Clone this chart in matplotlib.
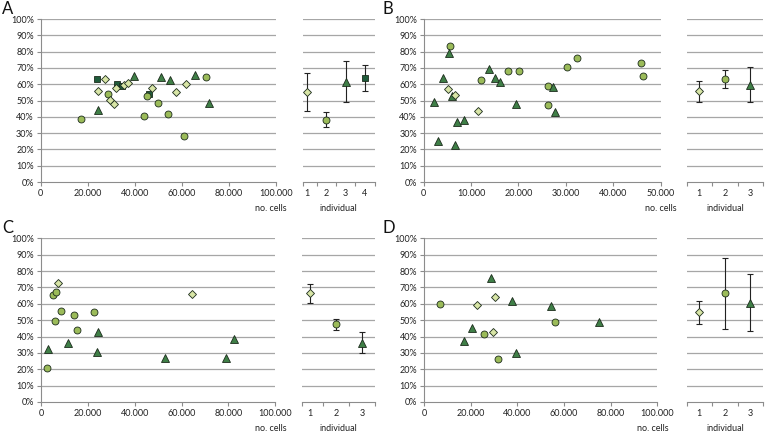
import matplotlib.pyplot as plt
from matplotlib.ticker import FuncFormatter

plt.rcParams['font.family'] = ['Lato', 'DejaVu Sans']

# panel A
a_sq_x = [24000, 32300, 34500, 46100]
a_sq_y = [63.0, 60.2, 59.2, 54.3]
a_dia_x = [24500, 27400, 29300, 31200, 32200, 35300, 37000, 47500, 57700, 61800]
a_dia_y = [56.0, 63.2, 50.1, 48.0, 57.8, 59.7, 60.8, 57.8, 55.5, 60.2]
a_cir_x = [17200, 28800, 44000, 45100, 50100, 54200, 61000, 70400]
a_cir_y = [38.6, 53.9, 40.6, 52.9, 48.2, 42.0, 28.4, 64.7]
a_tri_x = [24500, 39700, 51100, 55000, 65500, 71800]
a_tri_y = [44.3, 64.9, 64.3, 62.7, 65.9, 48.4]
a_ind = [55.1, 38.2, 61.6, 63.7]
a_lo = [43.3, 33.7, 49.0, 55.7]
a_hi = [66.9, 42.7, 74.5, 71.6]

# panel B
b_dia_x = [5100, 6500, 11500]
b_dia_y = [57.3, 53.4, 43.4]
b_cir_x = [5500, 12100, 17800, 20100, 26200, 26200, 30200, 32300, 45900, 46300]
b_cir_y = [83.4, 62.8, 67.9, 68.3, 58.9, 47.0, 70.8, 76.3, 72.8, 64.8]
b_tri_x = [2100, 3100, 4100, 5400, 5900, 6500, 7100, 8500, 13800, 15100, 16200, 19500, 27200, 27800]
b_tri_y = [48.9, 25.4, 63.6, 78.9, 53.0, 22.9, 37.0, 38.0, 69.3, 64.0, 61.3, 47.6, 58.3, 43.1]
b_ind = [55.8, 63.4, 59.7]
b_lo = [48.9, 57.5, 49.3]
b_hi = [62.0, 68.9, 70.3]

# panel C
c_dia_x = [7200, 64300]
c_dia_y = [72.5, 66.2]
c_cir_x = [2300, 4800, 6100, 5800, 8500, 13900, 15200, 22400]
c_cir_y = [20.6, 65.6, 67.2, 49.7, 55.4, 53.0, 44.0, 54.8]
c_tri_x = [2700, 11500, 23800, 24400, 52900, 79100, 82400]
c_tri_y = [32.4, 35.8, 30.8, 42.6, 26.9, 26.9, 38.3]
c_ind = [66.4, 47.5, 36.3]
c_lo = [60.5, 43.8, 29.7]
c_hi = [72.1, 50.9, 42.6]

# panel D
d_dia_x = [22500, 29500, 30500]
d_dia_y = [59.5, 42.6, 64.0]
d_cir_x = [6700, 25800, 31500, 56300]
d_cir_y = [59.9, 41.3, 26.1, 48.7]
d_tri_x = [17100, 20500, 28500, 37700, 39300, 54200, 74800]
d_tri_y = [37.3, 45.2, 75.6, 61.9, 30.1, 58.9, 48.7]
d_ind = [54.8, 66.6, 60.7]
d_lo = [47.5, 44.8, 43.4]
d_hi = [61.9, 88.2, 78.2]

DIA = dict(marker='D', color='#d8e5a6', ms=4.2)
CIR = dict(marker='o', color='#9bbb59', ms=5.0)
TRI = dict(marker='^', color='#3f7f47', ms=5.6)
SQ = dict(marker='s', color='#1f5b3b', ms=4.8)
STYLES = [DIA, CIR, TRI, SQ]

GRID = '#a6a6a6'
AXC = '#8c8c8c'
FS = 6.5


def pts(ax, x, y, st):
    ax.plot(x, y, ls='none', marker=st['marker'], ms=st['ms'], mfc=st['color'],
            mec='#1c2b1c', mew=0.6, zorder=3)


def style_scatter(ax, xmax, step, right_frac):
    ax.set_xlim(0, xmax)
    ax.set_ylim(0, 100)
    ax.set_xticks(range(0, xmax + 1, step))
    ax.xaxis.set_major_formatter(FuncFormatter(lambda v, p: '{:,.0f}'.format(v).replace(',', '.')))
    ax.set_yticks(range(0, 101, 10))
    ax.yaxis.set_major_formatter(FuncFormatter(lambda v, p: '%d%%' % v))
    for yv in range(10, 101, 10):
        ax.axhline(yv, color=GRID, lw=0.9, zorder=1)
    for s in ['top', 'right']:
        ax.spines[s].set_visible(False)
    for s in ['left', 'bottom']:
        ax.spines[s].set_color(AXC)
        ax.spines[s].set_linewidth(0.8)
    ax.tick_params(colors=AXC, labelcolor='#222222', labelsize=FS, length=3, width=0.8, pad=2)
    ax.text(right_frac, -0.163, 'no. cells', transform=ax.transAxes, ha='center', va='center',
            fontsize=FS, color='#222222')


def style_ind(ax, n, left):
    ax.set_xlim(left, n + 0.5)
    ax.set_ylim(0, 100)
    ax.set_xticks(range(1, n + 1))
    ax.set_xticklabels([str(i) for i in range(1, n + 1)])
    ax.set_xticks([left] + [i + 0.5 for i in range(1, n + 1)], minor=True)
    ax.set_yticks([])
    for yv in range(10, 101, 10):
        ax.axhline(yv, color=GRID, lw=0.9, zorder=1)
    for s in ['top', 'right', 'left']:
        ax.spines[s].set_visible(False)
    ax.spines['bottom'].set_color(AXC)
    ax.spines['bottom'].set_linewidth(0.8)
    ax.tick_params(axis='x', which='major', length=0, labelsize=FS, labelcolor='#222222', pad=5)
    ax.tick_params(axis='x', which='minor', length=3, width=0.8, color=AXC)
    ax.text(0.5, -0.163, 'individual', transform=ax.transAxes, ha='center', va='center',
            fontsize=FS, color='#222222')


def individual(ax, mean, lo, hi):
    for i, (m, l, h) in enumerate(zip(mean, lo, hi)):
        ax.errorbar([i + 1], [m], yerr=[[m - l], [h - m]], fmt='none', ecolor='#222222',
                    elinewidth=0.8, capsize=2.2, capthick=0.8, zorder=2)
        pts(ax, [i + 1], [m], STYLES[i])


fig = plt.figure(figsize=(7.65, 4.37), dpi=100)

top_b, top_h = 0.5835, 0.9565 - 0.5835
bot_b, bot_h = 0.0801, 0.4547 - 0.0801

# A
ax = fig.add_axes([0.0532, top_b, 0.3072, top_h])
pts(ax, a_sq_x, a_sq_y, SQ)
pts(ax, a_cir_x, a_cir_y, CIR)
pts(ax, a_tri_x, a_tri_y, TRI)
pts(ax, a_dia_x, a_dia_y, DIA)
style_scatter(ax, 100000, 20000, 0.98)
ax = fig.add_axes([0.3957, top_b, 0.0941, top_h])
individual(ax, a_ind, a_lo, a_hi)
style_ind(ax, 4, 0.78)

# B
ax = fig.add_axes([0.5539, top_b, 0.3095, top_h])
pts(ax, b_cir_x, b_cir_y, CIR)
pts(ax, b_tri_x, b_tri_y, TRI)
pts(ax, b_dia_x, b_dia_y, DIA)
style_scatter(ax, 50000, 10000, 1.0)
ax = fig.add_axes([0.8976, top_b, 0.1002, top_h])
individual(ax, b_ind, b_lo, b_hi)
style_ind(ax, 3, 0.52)

# C
ax = fig.add_axes([0.0540, bot_b, 0.3055, bot_h])
pts(ax, c_cir_x, c_cir_y, CIR)
pts(ax, c_tri_x, c_tri_y, TRI)
pts(ax, c_dia_x, c_dia_y, DIA)
style_scatter(ax, 100000, 20000, 0.98)
ax = fig.add_axes([0.3952, bot_b, 0.0946, bot_h])
individual(ax, c_ind, c_lo, c_hi)
style_ind(ax, 3, 0.69)

# D
ax = fig.add_axes([0.5546, bot_b, 0.3046, bot_h])
pts(ax, d_cir_x, d_cir_y, CIR)
pts(ax, d_tri_x, d_tri_y, TRI)
pts(ax, d_dia_x, d_dia_y, DIA)
style_scatter(ax, 100000, 20000, 0.98)
ax = fig.add_axes([0.8976, bot_b, 0.1002, bot_h])
individual(ax, d_ind, d_lo, d_hi)
style_ind(ax, 3, 0.52)

for lab, x, y in [('A', 0.003, 0.997), ('B', 0.5, 0.997), ('C', 0.003, 0.497), ('D', 0.5, 0.497)]:
    fig.text(x, y, lab, ha='left', va='top', fontsize=12, color='#111111')

fig.savefig('out.png', dpi=100)
